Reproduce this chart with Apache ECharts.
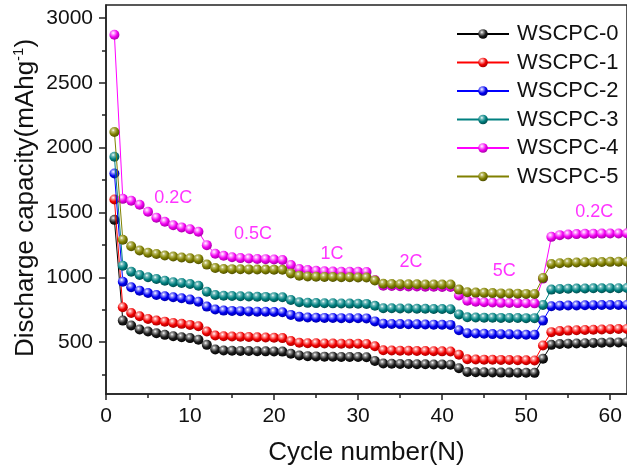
<!DOCTYPE html>
<html>
<head>
<meta charset="utf-8">
<script src="https://cdn.jsdelivr.net/npm/echarts@6/dist/echarts.min.js"></script>
<style>
  html, body { margin: 0; padding: 0; background: #fff; }
  #chart { width: 627px; height: 471px; }
</style>
</head>
<body>
<div id="chart"></div>
<script>
// Rate capability: discharge capacity per cycle for six samples
const cycles = Array.from({ length: 62 }, (_, i) => i + 1);

const seriesNames = ['WSCPC-0', 'WSCPC-1', 'WSCPC-2', 'WSCPC-3', 'WSCPC-4', 'WSCPC-5'];

const wscpc0 = [1443,
  666, 628, 597, 582, 569, 556, 546, 538, 531, 518,
  479, 443, 435, 433, 432, 431, 430, 429, 428, 427,
  410, 397, 392, 390, 388, 387, 386, 385, 385, 384,
  355, 335, 333, 332, 331, 330, 329, 328, 327, 326,
  298, 270, 268, 267, 266, 265, 265, 264, 264, 263,
  372, 479, 485, 488, 490, 492, 494, 496, 497, 498, 500];

const wscpc1 = [1600,
  769, 725, 700, 679, 666, 658, 648, 641, 633, 623,
  582, 551, 546, 544, 542, 540, 538, 536, 534, 531,
  508, 495, 492, 491, 490, 489, 488, 487, 487, 486,
  468, 437, 435, 434, 433, 432, 431, 430, 429, 428,
  403, 368, 366, 365, 364, 363, 362, 361, 360, 359,
  474, 577, 585, 589, 592, 594, 596, 598, 600, 601, 602];

const wscpc2 = [1800,
  966, 923, 897, 879, 864, 854, 846, 838, 828, 812,
  774, 751, 743, 741, 739, 737, 735, 734, 732, 731,
  710, 695, 690, 688, 687, 686, 685, 684, 684, 683,
  660, 642, 640, 639, 638, 637, 636, 635, 634, 633,
  592, 569, 566, 564, 562, 561, 560, 559, 557, 556,
  666, 777, 780, 782, 783, 784, 785, 786, 786, 787, 787];

const wscpc3 = [1930,
  1089, 1043, 1018, 1000, 987, 974, 962, 956, 948, 935,
  889, 864, 858, 856, 854, 852, 850, 849, 847, 846,
  825, 808, 803, 801, 800, 799, 798, 797, 796, 795,
  780, 762, 761, 760, 759, 758, 757, 756, 755, 754,
  714, 692, 690, 689, 688, 687, 686, 686, 685, 685,
  787, 905, 910, 912, 913, 914, 915, 915, 916, 916, 917];

const wscpc4 = [2870,
  1605, 1590, 1560, 1505, 1460, 1428, 1402, 1385, 1370, 1351,
  1248, 1182, 1166, 1155, 1148, 1145, 1141, 1140, 1137, 1133,
  1095, 1064, 1056, 1050, 1046, 1044, 1043, 1043, 1042, 1041,
  979, 935, 933, 931, 930, 929, 928, 927, 926, 925,
  860, 820, 812, 808, 805, 803, 802, 801, 800, 799,
  990, 1312, 1325, 1330, 1333, 1335, 1336, 1337, 1338, 1338, 1339];

const wscpc5 = [2120,
  1289, 1240, 1207, 1190, 1180, 1168, 1160, 1153, 1146, 1140,
  1098, 1072, 1064, 1063, 1062, 1061, 1060, 1060, 1059, 1058,
  1030, 1012, 1006, 1004, 1003, 1002, 1001, 1000, 999, 998,
  975, 950, 948, 947, 946, 946, 945, 945, 944, 944,
  905, 885, 882, 880, 878, 876, 875, 874, 872, 871,
  995, 1102, 1108, 1112, 1114, 1116, 1117, 1118, 1119, 1120, 1120];

const allValues = [wscpc0, wscpc1, wscpc2, wscpc3, wscpc4, wscpc5];

// C-rate annotations: [cycle, capacity, text]
const rateLabels = [
  [8.0, 1608, '0.2C'],
  [17.5, 1333, '0.5C'],
  [26.9, 1179, '1C'],
  [36.3, 1115, '2C'],
  [47.4, 1046, '5C'],
  [58.1, 1502, '0.2C']
];

const xTickLabels = [0, 10, 20, 30, 40, 50, 60];
const xMinorTicks = [5, 15, 25, 35, 45, 55];
const yTickLabels = [500, 1000, 1500, 2000, 2500, 3000];
const yMinorTicks = [250, 750, 1250, 1750, 2250, 2750];

// colours: line, highlight, body, shadow
const palette = [
  ['#000000', '#9a9a9a', '#1c1c1c', '#000000'],
  ['#ff0000', '#ff9a9a', '#f00000', '#a00000'],
  ['#0000ff', '#9a9aff', '#0000f0', '#0000a0'],
  ['#008080', '#7ac0c0', '#008080', '#004848'],
  ['#ff00ff', '#ffa0ff', '#f000f0', '#a000a0'],
  ['#808000', '#c0c070', '#808000', '#4a4a00']
];

function ball(p) {
  return {
    type: 'radial', x: 0.38, y: 0.32, r: 0.72,
    colorStops: [
      { offset: 0, color: '#ffffff' },
      { offset: 0.2, color: p[1] },
      { offset: 0.58, color: p[2] },
      { offset: 1, color: p[3] }
    ]
  };
}

const FONT = 'Liberation Sans, Arial, sans-serif';
const AXIS_COLOR = '#222';
const plain = v => String(v);

const lineSeries = seriesNames.map((name, i) => ({
  name: name,
  type: 'line',
  data: cycles.map((c, k) => [c, allValues[i][k]]),
  symbol: 'circle',
  symbolSize: 10,
  lineStyle: { color: palette[i][0], width: 1 },
  itemStyle: { color: ball(palette[i]), borderWidth: 0 },
  z: 2 + i
}));

const labelSeries = {
  name: 'rates',
  type: 'scatter',
  symbolSize: 2,
  itemStyle: { color: 'rgba(0,0,0,0)' },
  data: rateLabels.map(r => ({ value: [r[0], r[1]], name: r[2] })),
  label: {
    show: true,
    position: 'inside',
    formatter: '{b}',
    color: '#ff00ff',
    fontSize: 18,
    fontFamily: FONT
  },
  z: 10
};

const chart = echarts.init(document.getElementById('chart'), null, { renderer: 'canvas' });

chart.setOption({
  animation: false,
  backgroundColor: '#ffffff',
  grid: {
    left: 106, top: 5, width: 523.3, height: 390.5,
    show: true, borderColor: AXIS_COLOR, borderWidth: 1.5, backgroundColor: 'transparent'
  },
  legend: {
    data: seriesNames,
    orient: 'vertical',
    left: 456, top: 23, padding: 0,
    itemWidth: 52, itemHeight: 12, itemGap: 6.5,
    textStyle: { fontSize: 22, fontFamily: FONT, color: '#111', padding: [0, 0, 0, 3] }
  },
  xAxis: [{
    type: 'value', min: 0, max: 62,
    axisLine: { lineStyle: { color: AXIS_COLOR, width: 1.5 } },
    axisTick: { customValues: xTickLabels, length: 6, lineStyle: { color: AXIS_COLOR, width: 1.5 } },
    axisLabel: { customValues: xTickLabels, formatter: plain, margin: 12, fontSize: 21, fontFamily: FONT, color: '#111' },
    splitLine: { show: false },
    name: 'Cycle number(N)', nameLocation: 'middle', nameGap: 46,
    nameTextStyle: { fontSize: 26, fontFamily: FONT, color: '#111' }
  }, {
    type: 'value', min: 0, max: 62, position: 'bottom',
    axisLine: { show: false },
    axisTick: { customValues: xMinorTicks, length: 4, lineStyle: { color: AXIS_COLOR, width: 1.5 } },
    axisLabel: { show: false },
    splitLine: { show: false }
  }],
  yAxis: [{
    type: 'value', min: 100, max: 3100, position: 'left',
    axisLine: { show: true, lineStyle: { color: AXIS_COLOR, width: 1.5 } },
    axisTick: { show: true, customValues: yTickLabels, length: 7, lineStyle: { color: AXIS_COLOR, width: 1.5 } },
    axisLabel: { customValues: yTickLabels, formatter: plain, margin: 13, fontSize: 21, fontFamily: FONT, color: '#111' },
    splitLine: { show: false }
  }, {
    type: 'value', min: 100, max: 3100, position: 'left',
    axisLine: { show: false },
    axisTick: { show: true, customValues: yMinorTicks, length: 4, lineStyle: { color: AXIS_COLOR, width: 1.5 } },
    axisLabel: { show: false },
    splitLine: { show: false }
  }],
  graphic: [{
    type: 'text',
    x: 26, y: 198,
    rotation: Math.PI / 2,
    style: {
      text: 'Discharge capacity(mAhg{sup|-1})',
      font: '26px ' + FONT,
      fill: '#111',
      align: 'center',
      verticalAlign: 'middle',
      rich: {
        sup: { fontSize: 15, fontFamily: FONT, fill: '#111', verticalAlign: 'top', lineHeight: 30 }
      }
    }
  }],
  series: lineSeries.concat([labelSeries])
});
</script>
</body>
</html>
